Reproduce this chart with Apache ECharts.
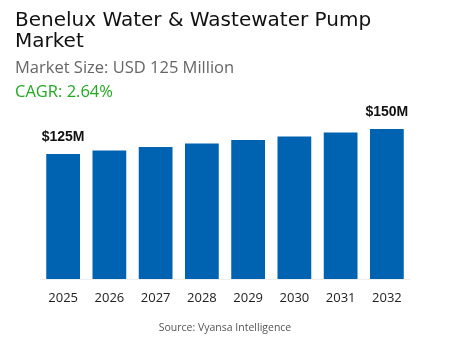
<!DOCTYPE html>
<html><head><meta charset="utf-8">
<script src="https://cdn.jsdelivr.net/npm/echarts@6/dist/echarts.min.js"></script>
<style>html,body{margin:0;padding:0;background:#fff}#c{width:450px;height:350px}</style>
</head><body><div id="c"></div>
<script>
const categories = ['2025','2026','2027','2028','2029','2030','2031','2032'];
const values = [125, 128.5, 132, 135.5, 139, 142.5, 146.5, 150];
const labelText = ['$125M','','','','','','','$150M'];
const titleText = 'Benelux Water & Wastewater Pump\nMarket';
const subText = 'Market Size: USD 125 Million';
const cagrText = 'CAGR: 2.64%';
const sourceText = 'Source: Vyansa Intelligence';

const chart = echarts.init(document.getElementById('c'));
chart.setOption({
  animation: false,
  title: [
    {text: titleText, left: 10, top: 5, textStyle: {fontFamily: 'DejaVu Sans', fontSize: 20, fontWeight: 'normal', color: '#111', lineHeight: 21.5}},
    {text: subText, left: 10, top: 55, textStyle: {fontFamily: 'Open Sans', fontSize: 16.5, fontWeight: 'normal', color: '#666'}},
    {text: cagrText, left: 10, top: 79, textStyle: {fontFamily: 'Open Sans', fontSize: 16.5, fontWeight: 'normal', color: '#22aa22'}},
    {text: sourceText, left: 'center', top: 318, textStyle: {fontFamily: 'Open Sans', fontSize: 10.5, fontWeight: 'normal', color: '#555'}}
  ],
  grid: {left: 40, right: 40, top: 119, bottom: 71, containLabel: false},
  xAxis: {
    type: 'category', data: categories,
    axisLine: {show: true, lineStyle: {color: '#eeeeee', width: 1}},
    axisTick: {show: false},
    axisLabel: {color: '#222', fontSize: 13, fontFamily: 'Open Sans', margin: 13}
  },
  yAxis: {type: 'value', min: 0, max: 160, show: false, splitLine: {show: false}},
  series: [{
    type: 'bar', data: values, barWidth: '73%',
    itemStyle: {color: '#0063b1'},
    label: {show: true, position: 'top', distance: 10,
      formatter: p => labelText[p.dataIndex],
      fontFamily: 'Liberation Sans', fontWeight: 'bold', fontSize: 14, color: '#111'}
  }]
});
</script></body></html>
